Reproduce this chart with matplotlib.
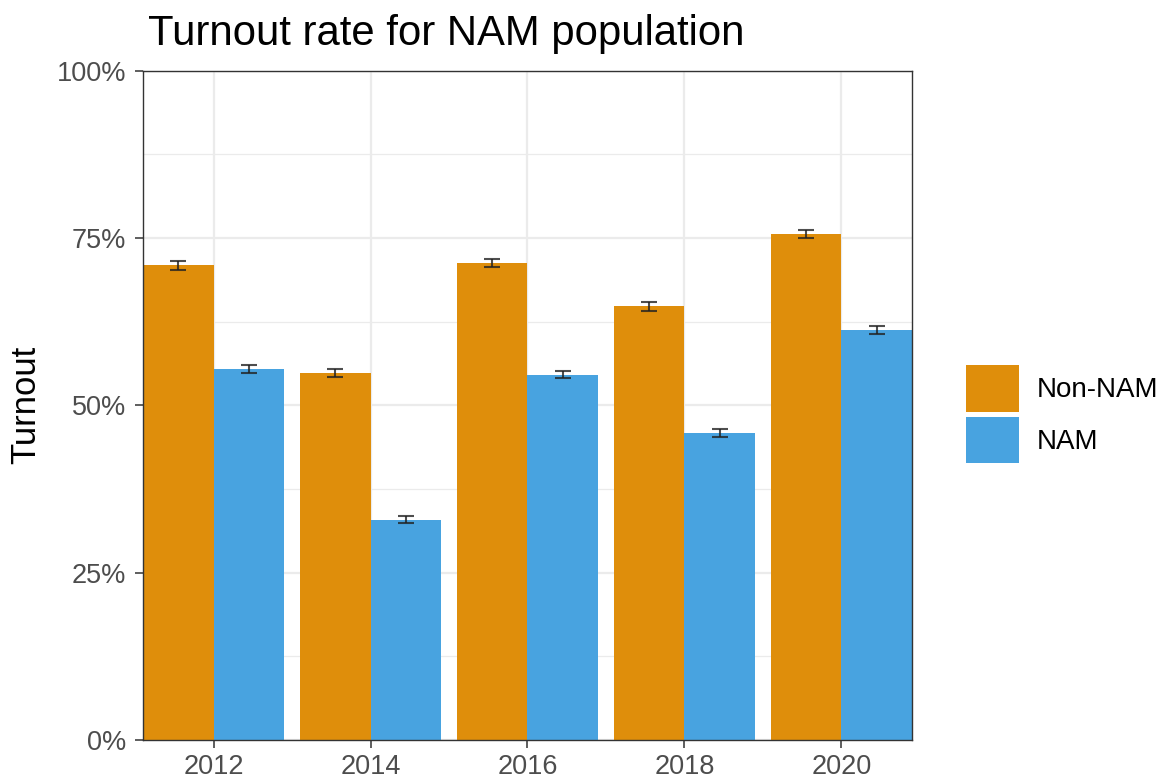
import numpy as np
import matplotlib
matplotlib.use("Agg")
import matplotlib.pyplot as plt
from matplotlib.patches import Patch
from matplotlib.ticker import MultipleLocator, PercentFormatter

plt.rcParams["font.family"] = ["Liberation Sans", "DejaVu Sans"]

YEARS = [2012, 2014, 2016, 2018, 2020]
GROUPS = ["Non-NAM", "NAM"]
NON_NAM = [0.709, 0.548, 0.713, 0.648, 0.756]
NAM = [0.554, 0.329, 0.546, 0.458, 0.613]
NON_NAM_ERR = [0.006, 0.006, 0.006, 0.007, 0.006]
NAM_ERR = [0.006, 0.005, 0.005, 0.006, 0.006]
COLORS = {"Non-NAM": "#DF8E0B", "NAM": "#48A3E0"}

fig = plt.figure(figsize=(11.67, 7.8), dpi=100)
ax = fig.add_axes([0.1225, 0.0513, 0.659, 0.858])

w = 0.9
x = np.array(YEARS, dtype=float)
for vals, errs, name, off in [(NON_NAM, NON_NAM_ERR, "Non-NAM", -w / 2),
                              (NAM, NAM_ERR, "NAM", w / 2)]:
    ax.bar(x + off, vals, width=w, color=COLORS[name], zorder=2)
    ax.errorbar(x + off, vals, yerr=errs, fmt="none", ecolor="#222222",
                elinewidth=1.5, capsize=6, capthick=1.5, alpha=0.8, zorder=3)

ax.set_xlim(2011.1, 2020.9)
ax.set_ylim(0, 1)
ax.set_xticks(YEARS)
ax.yaxis.set_major_locator(MultipleLocator(0.25))
ax.yaxis.set_minor_locator(MultipleLocator(0.125))
ax.yaxis.set_major_formatter(PercentFormatter(1.0, decimals=0))
ax.grid(which="major", color="#EBEBEB", lw=1.6, zorder=0)
ax.grid(which="minor", axis="y", color="#EBEBEB", lw=0.9, zorder=0)
ax.set_axisbelow(True)
for s in ax.spines.values():
    s.set_color("#333333")
    s.set_linewidth(1.0)
ax.tick_params(which="major", length=6, width=1.1, color="#333333",
               labelsize=19.5, labelcolor="#4D4D4D")
ax.tick_params(axis="y", pad=6)
ax.tick_params(axis="x", pad=4)
ax.tick_params(which="minor", length=0)

fig.text(26 / 1167, 0.481, "Turnout", rotation=90, fontsize=25,
         ha="center", va="center")
fig.text(148 / 1167, 1 - 45 / 780, "Turnout rate for NAM population",
         fontsize=30.2, ha="left", va="baseline")

handles = [Patch(facecolor=COLORS[g], edgecolor="none", label=g) for g in GROUPS]
fig.legend(handles=handles, loc="center left", bbox_to_anchor=(966 / 1167, 0.469),
           frameon=False, fontsize=20, handlelength=1.9, handleheight=2.2,
           labelspacing=0.18, handletextpad=0.65, borderpad=0, borderaxespad=0)

fig.savefig("out.png", dpi=100)
